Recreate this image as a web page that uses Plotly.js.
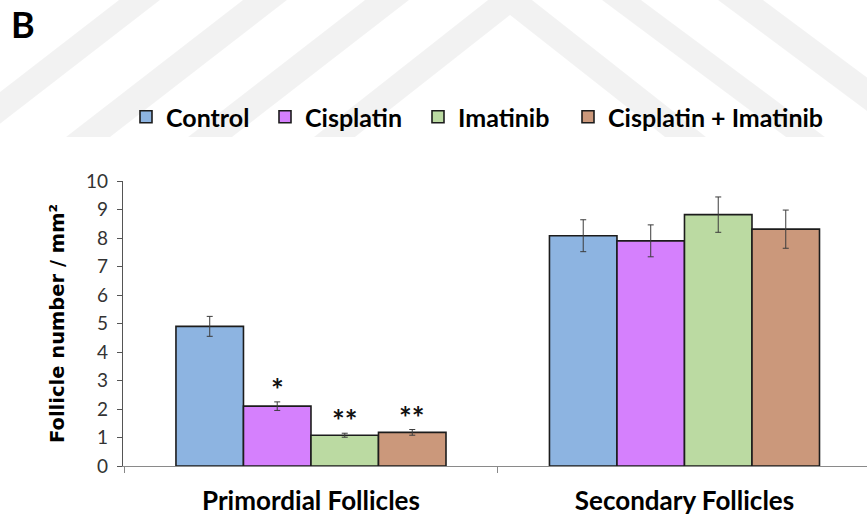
<!DOCTYPE html>
<html>
<head>
<meta charset="utf-8">
<script src="https://cdn.plot.ly/plotly-3.0.1.min.js"></script>
<style>
  html, body { margin: 0; padding: 0; background: #fff; }
  #chart { width: 867px; height: 518px; }
</style>
</head>
<body>
<div id="chart"></div>
<script>
// Follicle counts per mm² (mean ± SE) for each treatment group
const categories = ['Primordial Follicles', 'Secondary Follicles'];
const seriesNames = ['Control', 'Cisplatin', 'Imatinib', 'Cisplatin + Imatinib'];
const controlValues   = [4.90, 8.08];
const cisplatinValues = [2.10, 7.90];
const imatinibValues  = [1.08, 8.82];
const comboValues     = [1.18, 8.31];
const controlErrors   = [0.35, 0.56];
const cisplatinErrors = [0.15, 0.56];
const imatinibErrors  = [0.07, 0.62];
const comboErrors     = [0.10, 0.67];
// significance marks versus control (one entry per category)
const cisplatinMarks  = ['*', ''];
const imatinibMarks   = ['**', ''];
const comboMarks      = ['**', ''];

const colors = ['#8db4e1', '#d580fd', '#bbdaa2', '#cb987b'];
const values = [controlValues, cisplatinValues, imatinibValues, comboValues];
const errors = [controlErrors, cisplatinErrors, imatinibErrors, comboErrors];
const marks  = [null, cisplatinMarks, imatinibMarks, comboMarks];

const W = 867, H = 518;
const M = { l: 123, r: 0, t: 181, b: 52 };
const plotW = W - M.l - M.r, plotH = H - M.t - M.b;
const CAT_PX = 373.5;          // pixel width of one category slot
const X0 = -0.5033;            // left end of the category axis
const BARGAP = 0.277;

const labelFont = 'Lato, "Noto Sans", sans-serif';
const legendIds = ['legend', 'legend2', 'legend3', 'legend4'];
const legendTextX = [166, 305, 458, 608];   // left edge of each legend label

const traces = seriesNames.map((name, i) => ({
  type: 'bar',
  name: name,
  legend: legendIds[i],
  x: categories,
  y: values[i],
  marker: { color: colors[i], line: { color: '#1c1c1c', width: 1.6 } },
  error_y: { type: 'data', array: errors[i], visible: true,
             color: '#3c3c3c', thickness: 1, width: 3 },
  hoverinfo: 'skip'
}));

// asterisks above the error bars, centred on their bar
const barW = (1 - BARGAP) / seriesNames.length;
const annotations = [];
marks.forEach((m, i) => {
  if (!m) return;
  m.forEach((txt, c) => {
    if (!txt) return;
    annotations.push({
      xref: 'x', yref: 'y',
      x: c + (i - (seriesNames.length - 1) / 2) * barW,
      y: values[i][c] + errors[i][c],
      text: '<b>' + txt + '</b>',
      showarrow: false, yanchor: 'bottom', yshift: -7,
      font: { family: labelFont, size: 30, color: '#111' }
    });
  });
});

// faint striped backdrop behind the figure
function px2paper(pts) {
  return 'M' + pts.map(p => ((p[0] - M.l) / plotW).toFixed(4) + ',' +
                            ((H - M.b - p[1]) / plotH).toFixed(4)).join('L') + 'Z';
}
const backdrop = [
  [[119,0],[160,0],[-17,137],[-58,137]],
  [[243,0],[287,0],[110,137],[66,137]],
  [[365,0],[409,0],[232,137],[188,137]],
  [[314,137],[488,0],[532,0],[706,137],[665,137],[510,15],[355,137]],
  [[602,0],[641,0],[825,137],[786,137]],
  [[718,0],[763,0],[947,137],[902,137]]
];
const shapes = backdrop.map(poly => ({
  type: 'path', xref: 'paper', yref: 'paper', layer: 'below',
  path: px2paper(poly), fillcolor: 'rgba(0,0,0,0.05)', line: { width: 0 }
}));

const layout = {
  width: W, height: H, autosize: false,
  margin: M,
  paper_bgcolor: '#fff', plot_bgcolor: 'rgba(0,0,0,0)',
  barmode: 'group', bargap: BARGAP, bargroupgap: 0,
  showlegend: true,
  title: {
    text: '<b>B</b>', xref: 'container', yref: 'container',
    x: 11 / W, xanchor: 'left', y: 1 - 25 / H, yanchor: 'middle',
    font: { family: labelFont, size: 36, color: '#000' }
  },
  xaxis: {
    type: 'category', range: [X0, X0 + plotW / CAT_PX],
    tickson: 'boundaries', ticks: 'outside', ticklen: 6, tickcolor: '#888',
    showline: true, linecolor: '#8a8a8a', linewidth: 1.2,
    showgrid: false, zeroline: false, fixedrange: true,
    ticklabelstandoff: 12,
    tickfont: { family: labelFont, size: 26, color: '#000', weight: 'bold' }
  },
  yaxis: {
    range: [0, 10], dtick: 1, tick0: 0,
    ticks: 'outside', ticklen: 5, tickcolor: '#555',
    showline: true, linecolor: '#555', linewidth: 1.2,
    showgrid: false, zeroline: false, fixedrange: true,
    ticklabelstandoff: 5,
    tickfont: { family: labelFont, size: 19, color: '#333' },
    title: {
      text: '<b>Follicle number / mm²</b>', standoff: 16,
      font: { family: '"DejaVu Sans", sans-serif', size: 19.5, color: '#000' }
    }
  },
  annotations: annotations,
  shapes: shapes
};

// one legend per series so each entry sits at its own spot in the row
legendIds.forEach((id, i) => {
  layout[id] = {
    orientation: 'h', xref: 'container', yref: 'container',
    x: (legendTextX[i] - 40) / W, xanchor: 'left',
    y: 1 - 117 / H, yanchor: 'middle',
    font: { family: labelFont, size: 25, color: '#000', weight: 'bold' },
    bgcolor: 'rgba(0,0,0,0)'
  };
});

Plotly.newPlot('chart', traces, layout, { staticPlot: true, displayModeBar: false });
</script>
</body>
</html>
